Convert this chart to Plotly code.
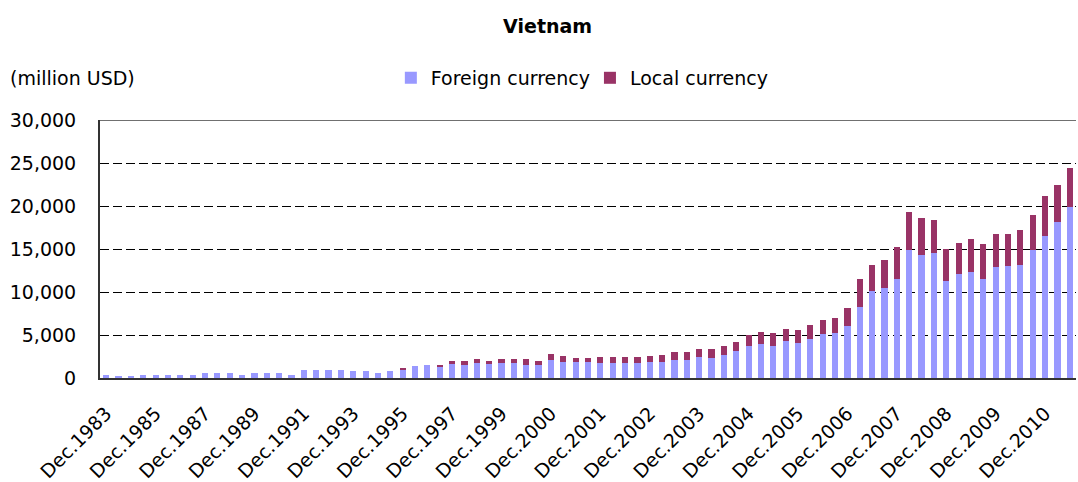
import plotly.graph_objects as go

# Period labels: semiannual Dec.1983-Dec.1999, quarterly Mar.2000-Jun.2011
periods = ["Dec.1983"]
for yr in range(1984, 2000):
    periods += [f"Jun.{yr}", f"Dec.{yr}"]
for yr in range(2000, 2012):
    for m in ["Mar", "Jun", "Sep", "Dec"]:
        periods.append(f"{m}.{yr}")
periods = periods[:79]

tick_labels = ["Dec.1983", "Dec.1985", "Dec.1987", "Dec.1989", "Dec.1991", "Dec.1993",
               "Dec.1995", "Dec.1997", "Dec.1999", "Dec.2000", "Dec.2001", "Dec.2002",
               "Dec.2003", "Dec.2004", "Dec.2005", "Dec.2006", "Dec.2007", "Dec.2008",
               "Dec.2009", "Dec.2010"]

foreign_currency = [
    350, 120, 120, 350, 350, 350, 350, 350, 580, 580, 580, 350, 580, 580, 580, 350,
    930, 930, 930, 930, 810, 810, 580, 810, 930, 1400, 1510, 1280, 1740, 1510, 1740, 1740, 1740,
    1740, 1510, 1510, 2090, 1860, 1860, 1860, 1740, 1740, 1740, 1740, 1860, 1860, 2090, 2090,
    2440, 2330, 2670, 3140, 3720, 3950, 3720, 4300, 4070, 4530, 5120, 5230, 6050, 8260,
    10120, 10470, 11510, 14880, 14300, 14530, 11280, 12090, 12330, 11510, 12910, 13020,
    13140, 14880, 16510, 18140, 19880]

local_currency = [
    0, 0, 0, 0, 0, 0, 0, 0, 0, 0, 0, 0, 0, 0, 0, 0,
    0, 0, 0, 0, 0, 0, 0, 0, 230, 0, 0, 230, 230, 470, 470, 230, 470,
    470, 700, 470, 700, 700, 470, 470, 700, 700, 700, 700, 700, 810, 930, 930,
    930, 1050, 1050, 1050, 1280, 1400, 1510, 1400, 1510, 1630, 1630, 1740, 2090, 3260,
    3020, 3260, 3720, 4420, 4300, 3840, 3720, 3600, 3840, 4070, 3840, 3720,
    4070, 4070, 4650, 4300, 4540]

FONT = "DejaVu Sans, Arial, sans-serif"
FS = 19

fig = go.Figure()
fig.add_trace(go.Bar(x=periods, y=foreign_currency, name="Foreign currency",
                     marker=dict(color="#9999FF", line=dict(width=0)), legend="legend"))
fig.add_trace(go.Bar(x=periods, y=local_currency, name="Local currency",
                     marker=dict(color="#993366", line=dict(width=0)), legend="legend2"))

legend_common = dict(orientation="h", yanchor="middle", xanchor="left", y=1.163,
                     font=dict(family=FONT, size=FS, color="black"),
                     itemwidth=30, bgcolor="rgba(0,0,0,0)")

fig.update_layout(
    barmode="stack",
    bargap=0.5,
    width=1078, height=482,
    margin=dict(l=100, r=2, t=120, b=104, autoexpand=False),
    paper_bgcolor="white", plot_bgcolor="white",
    font=dict(family=FONT, size=FS, color="black"),
    title=dict(text="<b>Vietnam</b>", x=0.508, xanchor="center", y=0.945, yanchor="middle",
               font=dict(family=FONT, size=FS, color="black")),
    legend=dict(x=0.298, **legend_common),
    legend2=dict(x=0.502, **legend_common),
    showlegend=True,
)

fig.update_xaxes(
    type="category", range=[-0.5, 78.5],
    tickmode="array", tickvals=tick_labels, ticktext=tick_labels,
    tickangle=-45, tickfont=dict(family=FONT, size=FS),
    showline=True, linecolor="#333333", linewidth=2,
    ticks="", showgrid=False, automargin=False, ticklabelstandoff=15,
)
fig.update_yaxes(
    range=[0, 30000], dtick=5000, tickformat=",",
    tickfont=dict(family=FONT, size=FS),
    showline=True, linecolor="#333333", linewidth=2,
    showgrid=True, gridcolor="black", gridwidth=1, griddash="9px,4px",
    ticks="", ticklabelstandoff=18, zeroline=False, automargin=False,
)

fig.add_shape(type="line", xref="paper", yref="y", x0=0, x1=1, y0=30000, y1=30000,
              line=dict(color="#707070", width=2))

fig.add_annotation(text="(million USD)", xref="paper", yref="paper",
                   x=-0.094, y=1.163, xanchor="left", yanchor="middle",
                   showarrow=False, font=dict(family=FONT, size=FS))

fig.write_html("out.html", config={"displayModeBar": False},
               post_script="document.body.style.margin='0px';")
